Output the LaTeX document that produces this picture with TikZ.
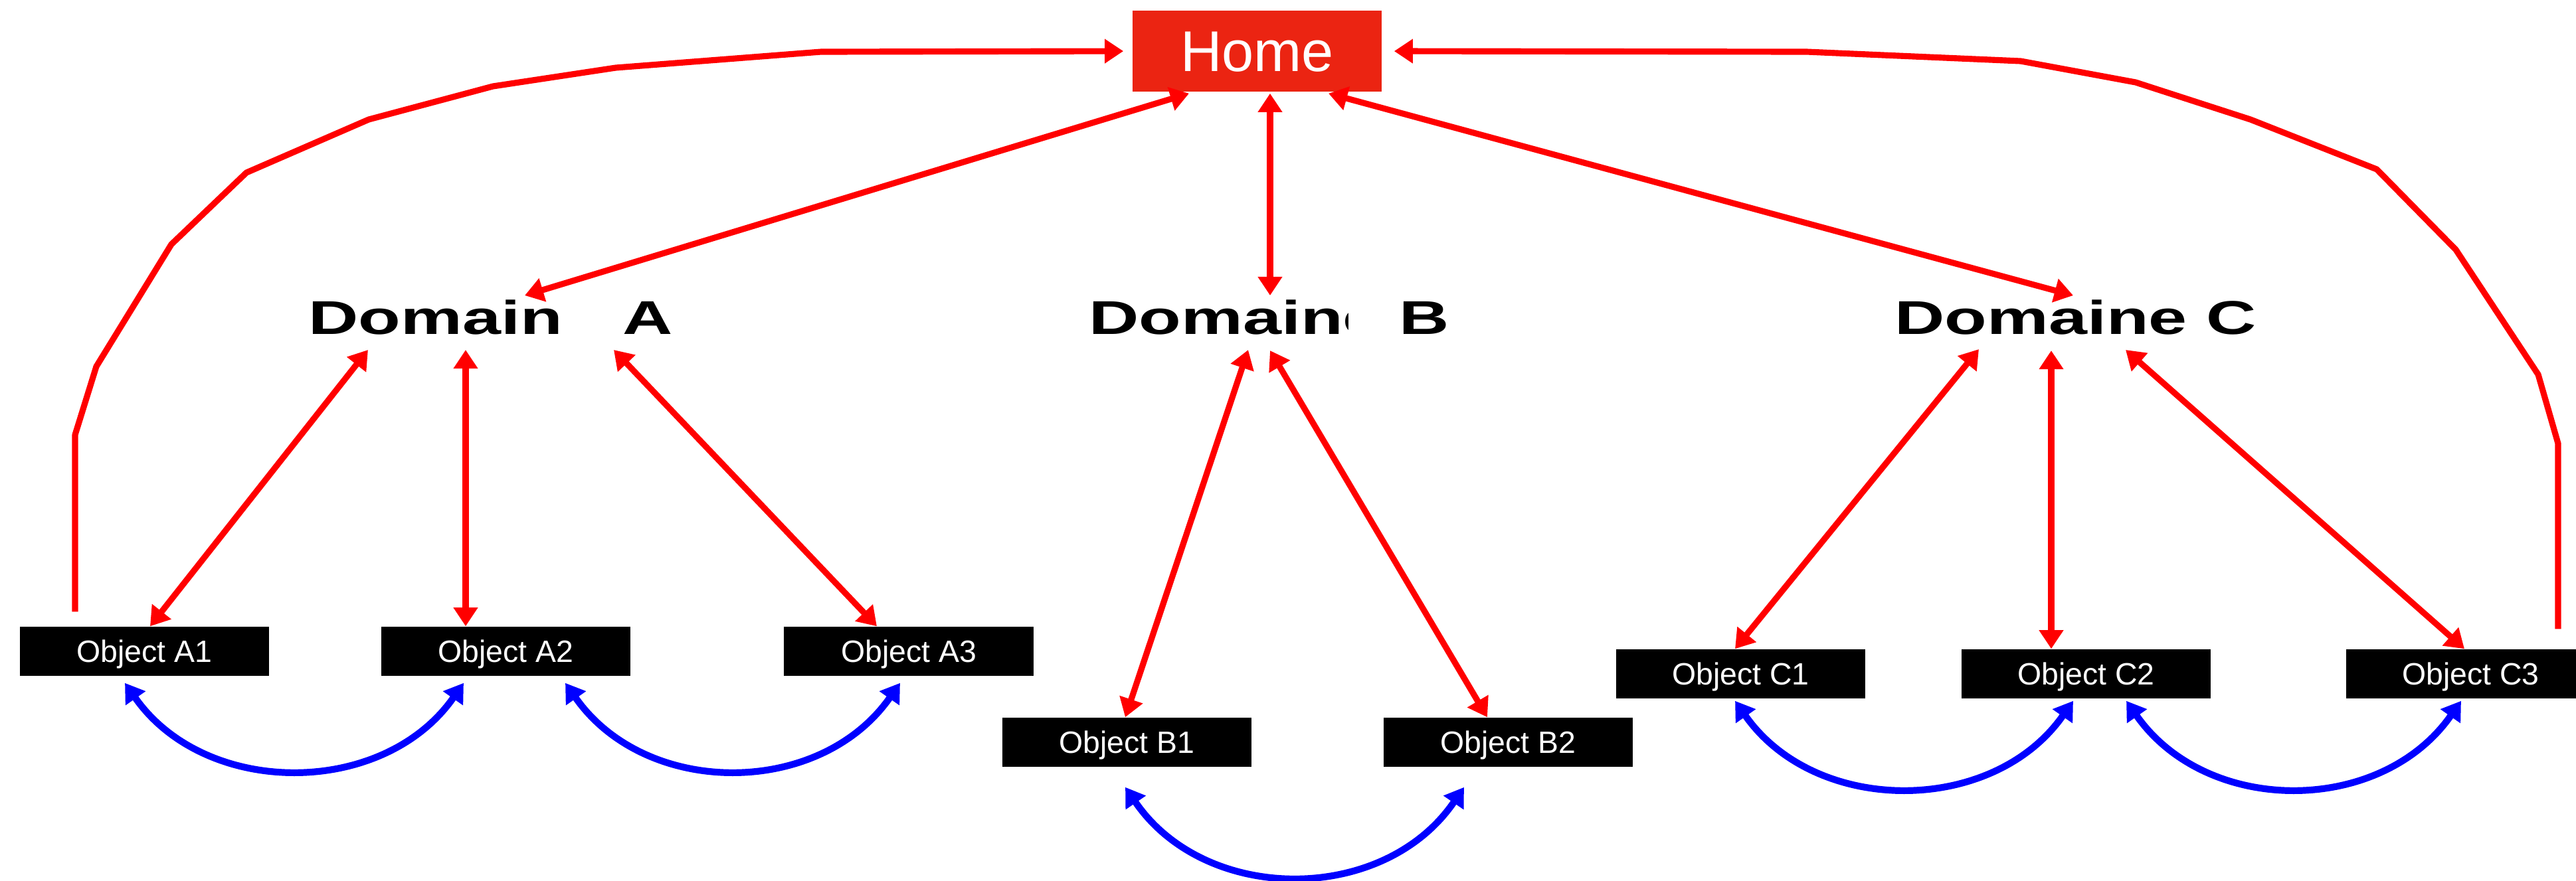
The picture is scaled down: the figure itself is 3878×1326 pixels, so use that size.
\documentclass[tikz,border=0pt]{standalone}
\usepackage{fontspec}
\setmainfont{Liberation Sans}
\usetikzlibrary{arrows.meta,calc}

\definecolor{homered}{RGB}{235,36,18}
\definecolor{linkred}{RGB}{255,0,0}
\definecolor{linkblue}{RGB}{0,0,255}

\tikzset{
  homebox/.style={fill=homered, text=white, font=\fontsize{24.6}{28}\selectfont,
    minimum width=3.75cm, minimum height=1.22cm, inner sep=0pt,
    text height=17.6pt, text depth=0pt},
  objbox/.style={fill=black, text=white, font=\fontsize{13.2}{15}\selectfont,
    minimum width=3.75cm, minimum height=0.74cm, inner sep=0pt,
    text height=9.45pt, text depth=0pt},
  domainlabel/.style={font=\fontsize{20.3}{24}\selectfont\bfseries,
    inner sep=0pt, anchor=base west},
  redlink/.style={draw=linkred, line width=2.6pt, line join=round},
  bluelink/.style={draw=linkblue, line width=2.9pt, line join=round},
  >={Triangle[length=8pt,width=10pt]}
}

\begin{document}
% one unit = 0.01 cm, y grows downwards
\begin{tikzpicture}[x=0.01cm, y=-0.01cm]
\useasboundingbox (0,0) rectangle (3878,1326);
\clip (0,0) rectangle (3878,1326);

% top node
\node[homebox] (home) at (1892.5,77) {Home};

% domain labels
\node[domainlabel] (domA) at (464,503) {\scalebox{1.46}[1]{Domain\hspace{17.7pt}A}};
\node[domainlabel] (domB) at (1639,503) {\scalebox{1.46}[1]{Domaine\hspace{5.1pt}B}};
\fill[white] (2030,440) rectangle (2088,520);
\node[domainlabel] (domC) at (2852,503) {\scalebox{1.46}[1]{Domaine C}};

% objects
\node[objbox] (A1) at (217.5,981) {Object A1};
\node[objbox] (A2) at (761.5,981) {Object A2};
\node[objbox] (A3) at (1368,981) {Object A3};
\node[objbox] (B1) at (1696.5,1118) {Object B1};
\node[objbox] (B2) at (2270.5,1118) {Object B2};
\node[objbox] (C1) at (2620.5,1015) {Object C1};
\node[objbox] (C2) at (3140.5,1015) {Object C2};
\node[objbox] (C3) at (3719.5,1015) {Object C3};

% home <-> domains
\draw[redlink,<->] ($(home.south)+(-102.5,2)$) -- ($(domA.base west)+(326,-58)$);
\draw[redlink,<->] ($(home.south)+(19.5,2)$) -- ($(domB.base west)+(273,-58)$);
\draw[redlink,<->] ($(home.south)+(107.5,2)$) -- ($(domC.base west)+(269,-58)$);

% domain A <-> objects
\draw[redlink,<->] ($(domA.base west)+(90,24)$) -- ($(A1.north)+(8.5,0)$);
\draw[redlink,<->] ($(domA.base west)+(237,24)$) -- ($(A2.north)+(-60.5,0)$);
\draw[redlink,<->] ($(domA.base west)+(460,24)$) -- ($(A3.north)+(-48,0)$);

% domain B <-> objects
\draw[redlink,<->] ($(domB.base west)+(240,24)$) -- ($(B1.north)+(-2.5,0)$);
\draw[redlink,<->] ($(domB.base west)+(273,25)$) -- ($(B2.north)+(-31.5,0)$);

% domain C <-> objects
\draw[redlink,<->] ($(domC.base west)+(127,23)$) -- ($(C1.north)+(-8.5,0)$);
\draw[redlink,<->] ($(domC.base west)+(236,25)$) -- ($(C2.north)+(-52.5,0)$);
\draw[redlink,<->] ($(domC.base west)+(348,24)$) -- ($(C3.north)+(-9.5,0)$);

% outer return paths to home
\draw[redlink,->] ($(A1.north)+(-104.5,-22)$) -- (113,655) -- (145,552) -- (258,368)
  -- (371,260) -- (555,180) -- (742,130) -- (927,102) -- (1236,78)
  -- ($(home.west)+(-13,0)$);
\draw[redlink,->] ($(C3.north)+(131.5,-30)$) -- (3851,668) -- (3821,564) -- (3697,376)
  -- (3578,255) -- (3388,180) -- (3215,124) -- (3042,92) -- (2720,78)
  -- ($(home.east)+(18,0)$);

% links between sibling objects
\draw[bluelink,<->] ($(A1.south)+(-29.5,10)$) .. controls +(121,173) and +(-121,173) .. ($(A2.south)+(-63.5,10)$);
\draw[bluelink,<->] ($(A2.south)+(89.5,10)$) .. controls +(121,173) and +(-121,173) .. ($(A3.south)+(-13,10)$);
\draw[bluelink,<->] ($(B1.south)+(-2.5,30)$) .. controls +(121,177) and +(-121,177) .. ($(B2.south)+(-66.5,30)$);
\draw[bluelink,<->] ($(C1.south)+(-8.5,3)$) .. controls +(121,173) and +(-121,173) .. ($(C2.south)+(-19.5,3)$);
\draw[bluelink,<->] ($(C2.south)+(60.5,3)$) .. controls +(121,173) and +(-121,173) .. ($(C3.south)+(-14.5,3)$);
\end{tikzpicture}
\end{document}
